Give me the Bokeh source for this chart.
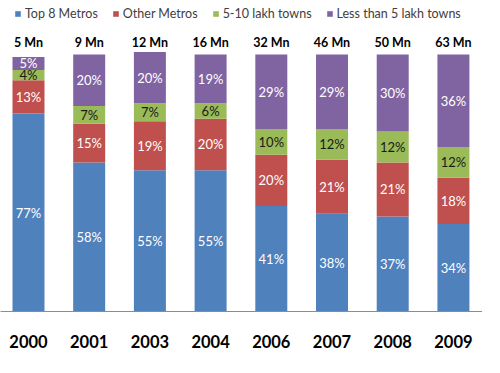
from bokeh.plotting import figure
from bokeh.models import ColumnDataSource, Range1d, FixedTicker, Legend, LegendItem
from bokeh.core.properties import value
from bokeh.embed import file_html
from bokeh.resources import INLINE

# ---- data ----
years = ["2000", "2001", "2003", "2004", "2006", "2007", "2008", "2009"]
totals = ["5 Mn", "9 Mn", "12 Mn", "16 Mn", "32 Mn", "46 Mn", "50 Mn", "63 Mn"]
top8_metros = [77, 58, 55, 55, 41, 38, 37, 34]
other_metros = [13, 15, 19, 20, 20, 21, 21, 18]
lakh_5_10 = [4, 7, 7, 6, 10, 12, 12, 12]
lakh_below_5 = [5, 20, 20, 19, 29, 29, 30, 36]
series_names = ["Top 8 Metros", "Other Metros", "5-10 lakh towns", "Less than 5 lakh towns"]

# ---- styles ----
colors = ["#4F81BD", "#C0504D", "#9BBB59", "#8064A2"]
label_colors = ["#FFFFFF", "#FFFFFF", "#1A1A1A", "#FFFFFF"]
FONT = "Lato"

keys = ["s0", "s1", "s2", "s3"]
series = [top8_metros, other_metros, lakh_5_10, lakh_below_5]
xs = list(range(len(years)))
data = {"x": xs}
for k, v in zip(keys, series):
    data[k] = v
source = ColumnDataSource(data)

p = figure(width=482, height=361, output_backend="svg", toolbar_location=None,
           x_range=Range1d(-0.461, 7.479), y_range=Range1d(0, 121.0),
           min_border_left=0, min_border_right=0, min_border_top=0, min_border_bottom=50)
p.outline_line_color = None
p.background_fill_color = "white"
p.border_fill_color = "white"
p.grid.visible = False
p.yaxis.visible = False

renderers = p.vbar_stack(keys, x="x", width=0.527, color=colors, line_color=None, source=source)

# segment labels
bottoms = [0] * len(years)
for v, lc in zip(series, label_colors):
    centers = [b + val / 2 for b, val in zip(bottoms, v)]
    p.text(x=xs, y=centers, text=[f"{val}%" for val in v], text_color=lc,
           text_font=value(FONT), text_font_size="13px",
           text_align="center", text_baseline="middle")
    bottoms = [b + val for b, val in zip(bottoms, v)]

# totals above bars
TOTAL_Y = 104.7
p.text(x=xs, y=[TOTAL_Y] * len(xs), text=totals, text_color="#000000",
       text_font=value(FONT), text_font_size="12.5px", text_font_style="bold",
       text_align="center", text_baseline="middle")

# x axis
ax = p.xaxis[0]
ax.ticker = FixedTicker(ticks=xs)
ax.major_label_overrides = {i: y for i, y in zip(xs, years)}
ax.major_label_text_font = FONT
ax.major_label_text_font_size = "16.5px"
ax.major_label_text_font_style = "bold"
ax.major_label_text_color = "#000000"
ax.major_label_standoff = 23
ax.major_tick_line_color = None
ax.minor_tick_line_color = None
ax.major_tick_out = 0
ax.axis_line_color = "#8C8C8C"
ax.axis_line_width = 1

legend = Legend(items=[LegendItem(label=n, renderers=[r]) for n, r in zip(series_names, renderers)],
                orientation="horizontal", location=(14, 290),
                label_text_font=FONT, label_text_font_size="12.5px", label_text_color="#404040",
                glyph_width=7, glyph_height=7, label_height=12, label_standoff=4,
                spacing=14, padding=0, margin=0,
                border_line_color=None, background_fill_alpha=0)
p.add_layout(legend)

open("out.html", "w").write(file_html(p, INLINE))
